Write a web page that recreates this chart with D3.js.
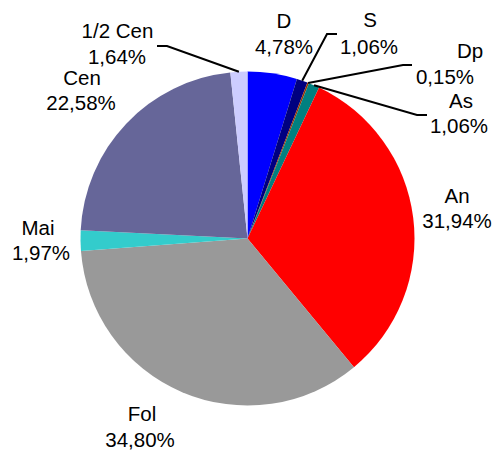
<!DOCTYPE html>
<html><head><meta charset="utf-8">
<script src="https://cdn.jsdelivr.net/npm/d3@7"></script>
<style>body{margin:0;background:#fff}svg{display:block}text{font-family:"Liberation Sans",Arial,sans-serif;font-size:20.5px;fill:#000}</style>
</head><body><svg id="c" width="495" height="455"></svg>
<script>
const categories = ["D","S","Dp","As","An","Fol","Mai","Cen","1/2 Cen"];
const values = [4.78,1.06,0.15,1.06,31.94,34.80,1.97,22.58,1.64];
const valueLabels = ["4,78%","1,06%","0,15%","1,06%","31,94%","34,80%","1,97%","22,58%","1,64%"];
const colors = ["#0000FF","#000080","#993300","#008080","#FF0000","#999999","#33CCCC","#666699","#CCCCFF"];

// layout: [nameX, nameBaseline, valueX, valueBaseline]
const labelLayout = {
  "D":[284,28,284,54],
  "S":[370,27,369,54],
  "Dp":[470,58,445,84],
  "As":[461,108,459,133],
  "An":[457,203,457,228],
  "Fol":[142,421,140,447],
  "Mai":[38,235,41,260],
  "Cen":[82,85,81,110],
  "1/2 Cen":[117.5,38,117,64]
};
// leader elbows: [elbowX, elbowY, endX]
const leaders = {
  "S":[327,34,337],
  "Dp":[403,65,412],
  "As":[417,115,427],
  "1/2 Cen":[167,46,157]
};

const cx = 247.5, cy = 238.5, r = 167;
const svg = d3.select("#c");
const g = svg.append("g").attr("transform",`translate(${cx},${cy})`);
const pie = d3.pie().sort(null).value(d=>d.v).startAngle(0).endAngle(2*Math.PI);
const data = categories.map((c,i)=>({c, v:values[i], lab:valueLabels[i], col:colors[i]}));
const arcs = pie(data);
const arc = d3.arc().innerRadius(0).outerRadius(r);
g.selectAll("path.s").data(arcs).join("path").attr("class","s")
  .attr("d",arc).attr("fill",d=>d.data.col);

arcs.forEach(a=>{
  const L = leaders[a.data.c];
  if(!L) return;
  const m = (a.startAngle+a.endAngle)/2;
  const x0 = cx + r*Math.sin(m), y0 = cy - r*Math.cos(m);
  svg.append("polyline")
    .attr("points",`${x0},${y0} ${L[0]},${L[1]} ${L[2]},${L[1]}`)
    .attr("fill","none").attr("stroke","#000").attr("stroke-width",2);
});

arcs.forEach(a=>{
  const p = labelLayout[a.data.c];
  svg.append("text").attr("x",p[0]).attr("y",p[1]).attr("text-anchor","middle").text(a.data.c);
  svg.append("text").attr("x",p[2]).attr("y",p[3]).attr("text-anchor","middle").text(a.data.lab);
});
</script></body></html>
